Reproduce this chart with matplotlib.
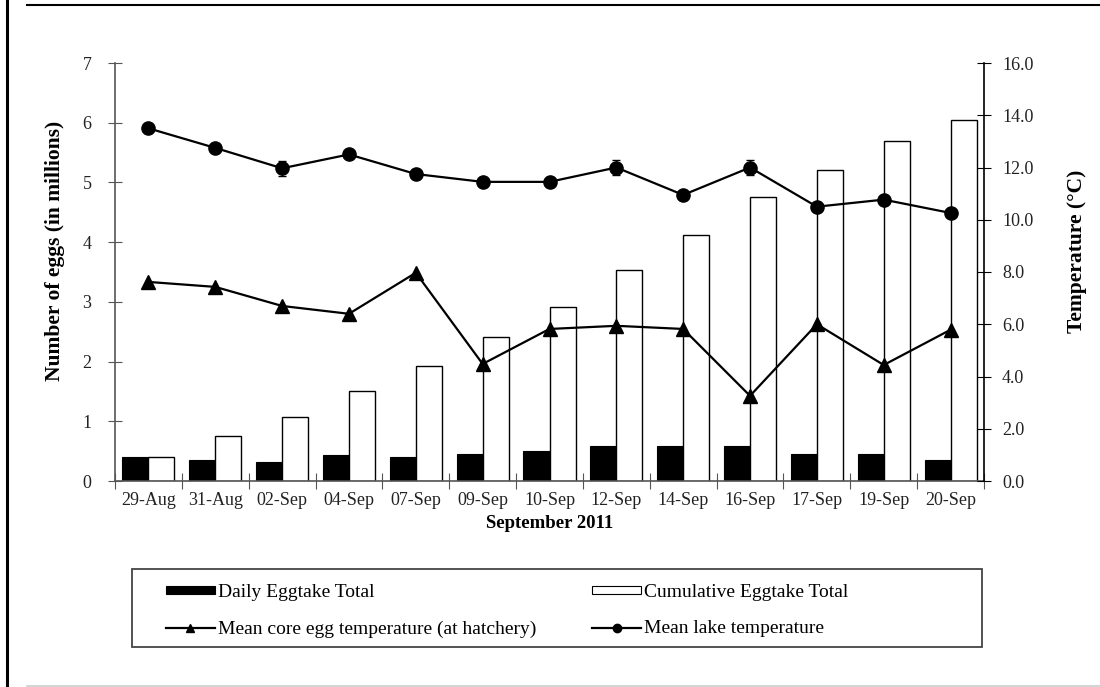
import matplotlib as mpl
mpl.use('Agg')
import matplotlib.pyplot as plt
from matplotlib.patches import Rectangle
from matplotlib.lines import Line2D
import numpy as np

plt.rcParams['font.family'] = ['Liberation Serif', 'DejaVu Serif']

dates = ['29-Aug', '31-Aug', '02-Sep', '04-Sep', '07-Sep', '09-Sep', '10-Sep',
         '12-Sep', '14-Sep', '16-Sep', '17-Sep', '19-Sep', '20-Sep']
# eggs, millions
daily_eggs = [0.40, 0.35, 0.31, 0.44, 0.40, 0.46, 0.50, 0.59, 0.59, 0.59, 0.46, 0.46, 0.35]
cumulative_eggs = [0.40, 0.75, 1.08, 1.51, 1.93, 2.41, 2.91, 3.54, 4.12, 4.75, 5.21, 5.70, 6.04]
# temperatures, deg C
core_egg_temp = [7.62, 7.43, 6.70, 6.40, 7.97, 4.48, 5.82, 5.94, 5.82, 3.26, 6.00, 4.44, 5.79]
lake_temp = [13.50, 12.75, 11.97, 12.50, 11.75, 11.45, 11.45, 12.00, 10.95, 12.00, 10.50, 10.77, 10.26]
lake_temp_err = [0.15, 0.15, 0.28, 0.15, 0.15, 0.15, 0.15, 0.28, 0.15, 0.30, 0.15, 0.15, 0.15]

W, H = 1100, 687
fig = plt.figure(figsize=(W / 100, H / 100), dpi=100)
fig.patch.set_facecolor('white')

ax = fig.add_axes([115 / W, 1 - 481 / H, 869 / W, 418 / H])
ax2 = ax.twinx()

x = np.arange(len(dates))
w = 0.39
ax.bar(x - w / 2, daily_eggs, w, color='black', edgecolor='black', linewidth=0.8)
ax.bar(x + w / 2, cumulative_eggs, w, color='white', edgecolor='black', linewidth=1.0)

ax2.plot(x, core_egg_temp, color='black', lw=1.6, marker='^', ms=9.5)
ax2.errorbar(x, lake_temp, yerr=lake_temp_err, fmt='none', ecolor='black',
             elinewidth=1, capsize=3)
ax2.plot(x, lake_temp, color='black', lw=1.6, marker='o', ms=9.5)

ax.set_xlim(-0.5, len(dates) - 0.5)
ax.set_ylim(0, 7)
ax2.set_ylim(0, 16)

# boundaries carry the tick marks, centres carry the labels
ax.set_xticks(np.arange(len(dates) + 1) - 0.5)
ax.set_xticklabels([])
ax.set_xticks(x, minor=True)
ax.set_xticklabels(dates, minor=True, fontsize=13)
ax.tick_params(axis='x', which='major', direction='inout', length=11, color='#555')
ax.tick_params(axis='x', which='minor', length=0, pad=8, labelcolor='#222')

ax.set_yticks(range(0, 8))
ax.tick_params(axis='y', direction='inout', length=10, color='#555', labelsize=13,
               labelcolor='#222', pad=12)
ax2.set_yticks(np.arange(0, 17, 2))
ax2.set_yticklabels(['%.1f' % v for v in np.arange(0, 17, 2)])
ax2.tick_params(axis='y', direction='inout', length=10, color='black', labelsize=13,
                labelcolor='#222', pad=8)

for s in ['top', 'right']:
    ax.spines[s].set_visible(False)
for s in ['left', 'bottom']:
    ax.spines[s].set_color('#555')
    ax.spines[s].set_linewidth(1.2)
for s in ['top', 'left', 'bottom']:
    ax2.spines[s].set_visible(False)
ax2.spines['right'].set_linewidth(1.2)

ax.set_ylabel('Number of eggs (in millions)', fontsize=15.5, fontweight='bold')
ax2.set_ylabel('Temperature (°C)', fontsize=15.5, fontweight='bold')
ax.yaxis.set_label_coords(-0.057, 0.55)
ax2.yaxis.set_label_coords(1.095, 0.55)
ax.set_xlabel('September 2011', fontsize=13.5, fontweight='bold', labelpad=4)

# legend, with its frame drawn separately
handles = [
    Rectangle((0, 0), 1, 1, facecolor='black', edgecolor='black', lw=0.8),
    Line2D([], [], color='black', lw=1.6, marker='^', ms=6),
    Rectangle((0, 0), 1, 1, facecolor='white', edgecolor='black', lw=0.8),
    Line2D([], [], color='black', lw=1.6, marker='o', ms=6),
]
labels = ['Daily Eggtake Total', 'Mean core egg temperature (at hatchery)',
          'Cumulative Eggtake Total', 'Mean lake temperature']
fig.legend(handles, labels, ncol=2, loc='upper left', frameon=False,
           bbox_to_anchor=(166 / W, 1 - 584 / H), borderpad=0, borderaxespad=0,
           fontsize=14, handlelength=2.5, handleheight=0.32, handletextpad=0.15,
           columnspacing=2.9, labelspacing=1.0)
fig.add_artist(Rectangle((132 / W, 1 - 647 / H), 850 / W, 78 / H, transform=fig.transFigure,
                         fill=False, edgecolor='#444', lw=1.3))

# page border lines
fig.add_artist(Line2D([7 / W, 7 / W], [0, 1], transform=fig.transFigure, color='black', lw=2.2))
fig.add_artist(Line2D([27 / W, 1], [1 - 5 / H, 1 - 5 / H], transform=fig.transFigure,
                      color='black', lw=1.5))
fig.add_artist(Line2D([27 / W, 1], [1 - 686 / H, 1 - 686 / H], transform=fig.transFigure,
                      color='#cccccc', lw=1.2))

fig.savefig('out.png', dpi=100)
